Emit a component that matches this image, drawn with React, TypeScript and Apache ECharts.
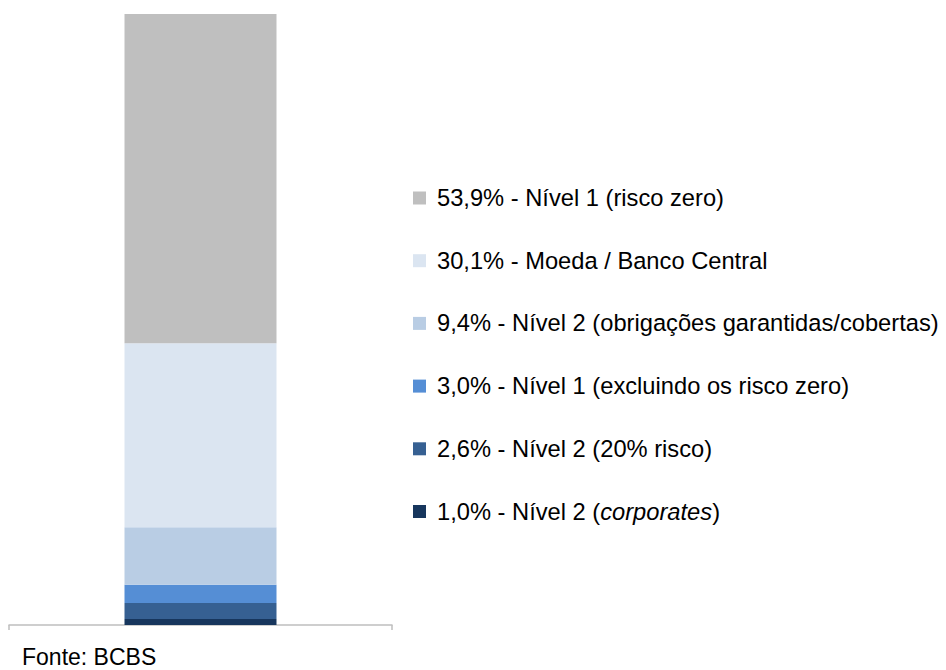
import React, { useEffect, useRef } from "react";
import * as echarts from "echarts";

const categories = [""];
const seriesNames = [
  "1,0% - Nível 2 (corporates)",
  "2,6% - Nível 2 (20% risco)",
  "3,0% - Nível 1 (excluindo os risco zero)",
  "9,4% - Nível 2 (obrigações garantidas/cobertas)",
  "30,1% - Moeda / Banco Central",
  "53,9% - Nível 1 (risco zero)",
];
const seriesValues = [1.0, 2.6, 3.0, 9.4, 30.1, 53.9];
const seriesColors = ["#17365d", "#366092", "#558ed5", "#b9cde4", "#dbe5f1", "#bfbfbf"];
const sourceText = "Fonte: BCBS";

const FONT = "'Liberation Sans', Arial, sans-serif";

export default function App() {
  const ref = useRef<HTMLDivElement>(null);
  useEffect(() => {
    if (!ref.current) return;
    const chart = echarts.init(ref.current, null, { renderer: "svg" });
    chart.setOption({
      animation: false,
      grid: { left: 9, right: 554, top: 14, bottom: 45 },
      xAxis: {
        type: "category",
        data: categories,
        axisLine: { show: true, lineStyle: { color: "#bebebe", width: 1.5 } },
        axisTick: { show: true, length: 5, lineStyle: { color: "#bebebe", width: 1.5 } },
        axisLabel: { show: false },
      },
      yAxis: { type: "value", min: 0, max: 100, show: false },
      legend: {
        orient: "vertical",
        left: 408,
        top: 181,
        itemWidth: 13,
        itemHeight: 13,
        itemGap: 38.7,
        icon: "rect",
        data: [...seriesNames].reverse(),
        formatter: (name: string) => name.replace("corporates", "{i|corporates}"),
        textStyle: {
          fontFamily: FONT,
          fontSize: 23.7,
          lineHeight: 24,
          color: "#000",
          padding: [0, 0, 0, 6],
          rich: {
            i: { fontFamily: FONT, fontSize: 23.7, fontStyle: "italic", color: "#000" },
          },
        },
      },
      graphic: [
        {
          type: "text",
          left: 22,
          top: 645,
          style: { text: sourceText, font: `23px ${FONT}`, fill: "#000" },
        },
      ],
      series: seriesNames.map((name, i) => ({
        name,
        type: "bar",
        stack: "total",
        barWidth: 152,
        data: [seriesValues[i]],
        itemStyle: { color: seriesColors[i] },
      })),
    });
    return () => chart.dispose();
  }, []);
  return (
    <div
      ref={ref}
      style={{ position: "absolute", left: 0, top: 0, width: 946, height: 670, background: "#fff" }}
    />
  );
}
